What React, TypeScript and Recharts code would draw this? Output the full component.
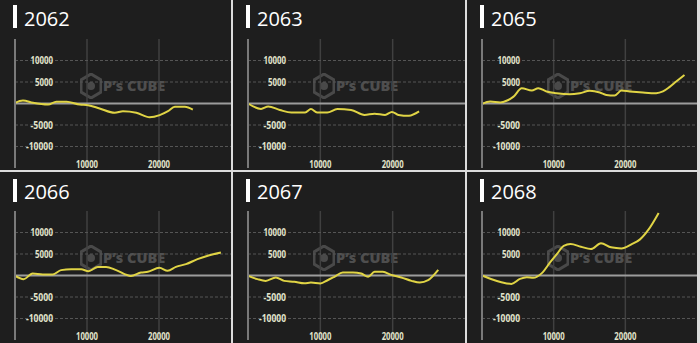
import { LineChart, Line, XAxis, YAxis, ReferenceLine } from 'recharts';

const titles = ['2062', '2063', '2065', '2066', '2067', '2068'];
const yTicks = [-10000, -5000, 5000, 10000];
const xTicks = [10000, 20000];

const games2062 = [0, 1100, 2500, 4600, 5750, 7150, 9000, 10150, 11750, 13850, 15000, 16850, 18700, 20100, 21250, 22200, 23600, 24700];
const diff2062 = [150, 700, 150, -250, 400, 400, -250, -400, -1150, -2150, -1800, -2150, -3200, -2700, -1800, -750, -750, -1400];

const games2063 = [0, 1800, 2800, 4400, 6000, 7900, 8700, 9550, 10950, 12350, 14250, 16100, 17500, 18950, 19900, 20800, 22250, 23650];
const diff2063 = [0, -1250, -700, -1500, -2100, -2100, -1300, -2100, -2100, -1300, -1500, -2650, -2400, -2650, -1950, -2650, -2850, -1850];

const games2065 = [0, 1150, 2550, 3500, 4400, 5550, 6950, 7850, 9000, 10400, 12250, 13650, 15050, 16450, 17350, 18500, 19450, 20600, 22450, 24300, 25250, 26150, 27100, 28250];
const diff2065 = [-100, 450, 250, 700, 1600, 3550, 3000, 3550, 2800, 2400, 2150, 2400, 2950, 2550, 2000, 1850, 3000, 2800, 2550, 2400, 2800, 3800, 5100, 6650];

const games2066 = [0, 1200, 2450, 3850, 5250, 6400, 7800, 9200, 10200, 11500, 12650, 14050, 16100, 17500, 18450, 20050, 21200, 22350, 23750, 25350, 27000, 28600];
const diff2066 = [-100, -850, 450, 250, 250, 1250, 1450, 1450, 1000, 2000, 2000, 1250, -100, 700, 850, 1800, 1100, 2000, 2650, 3800, 4700, 5350];

const games2067 = [0, 1300, 2450, 3850, 5000, 6400, 7800, 8700, 10000, 11000, 11950, 13100, 14500, 15650, 16600, 17500, 18650, 19800, 21200, 22600, 23750, 24900, 26300];
const diff2067 = [-100, -850, -1250, -450, -1250, -1450, -1800, -1650, -1850, -1100, -300, 700, 700, 450, -300, 850, 850, 150, -450, -1250, -1650, -1100, 1300];

const games2068 = [0, 1250, 2700, 4100, 5300, 6250, 7150, 8350, 9550, 10500, 11400, 12350, 13800, 15200, 16600, 18000, 19450, 20850, 22050, 23200, 24650];
const diff2068 = [0, -800, -1550, -1950, -800, -400, -550, 550, 3150, 5100, 6900, 7300, 6700, 6150, 7500, 6550, 6300, 7250, 8400, 10600, 14550];

const series = [
  [games2062, diff2062],
  [games2063, diff2063],
  [games2065, diff2065],
  [games2066, diff2066],
  [games2067, diff2067],
  [games2068, diff2068],
];

const colLeft = [0, 233, 467];
const colWidth = [231, 232, 230];
const rowTop = [0, 172];
const rowHeight = [170, 171];

const tickFont = { fontFamily: '"Open Sans", sans-serif', fontSize: 10, fontWeight: 700, fill: '#e2e4cc' };

const YTick = (props: any) => {
  const label = String(props.payload.value);
  return (
    <text x={53} y={props.y + 3.5} textAnchor="end" textLength={label.length * 4.5} lengthAdjust="spacingAndGlyphs" {...tickFont}>
      {label}
    </text>
  );
};

const XTick = (props: any) => {
  const label = String(props.payload.value);
  return (
    <text x={props.x} y={168} textAnchor="middle" textLength={label.length * 4.4} lengthAdjust="spacingAndGlyphs" {...tickFont}>
      {label}
    </text>
  );
};

function Watermark() {
  return (
    <div style={{ position: 'absolute', left: 80, top: 73, width: 100, height: 30, opacity: 0.35 }}>
      <svg width={22} height={26} style={{ position: 'absolute', left: 0, top: 0 }}>
        <polygon points="11,1 21,7 21,19 11,25 1,19 1,7" fill="none" stroke="#9a9a9a" strokeWidth={3} />
        <circle cx={11} cy={13} r={4} fill="#9a9a9a" />
      </svg>
      <div
        style={{
          position: 'absolute',
          left: 23,
          top: 5,
          fontFamily: '"Open Sans", sans-serif',
          fontWeight: 800,
          fontSize: 14.5,
          lineHeight: '16px',
          color: '#a8a8a8',
          whiteSpace: 'nowrap',
        }}
      >
        P’s CUBE
      </div>
    </div>
  );
}

function Panel({ idx }: { idx: number }) {
  const col = idx % 3;
  const row = Math.floor(idx / 3);
  const w = colWidth[col];
  const h = rowHeight[row];
  const [games, diff] = series[idx];
  const data = games.map((g, i) => ({ g, d: diff[i] }));
  return (
    <div style={{ position: 'absolute', left: colLeft[col], top: rowTop[row], width: w, height: h, background: '#1e1e1e', overflow: 'hidden' }}>
      <div style={{ position: 'absolute', left: 13, top: 5 + row * 2, width: 4, height: 23, background: '#ffffff' }} />
      <div
        style={{
          position: 'absolute',
          left: 24,
          top: 9 + row,
          fontFamily: '"Open Sans", sans-serif',
          fontSize: 20,
          lineHeight: '20px',
          color: '#ffffff',
        }}
      >
        {titles[idx]}
      </div>
      <Watermark />
      <div style={{ position: 'absolute', left: 0, top: 0 }}>
        <LineChart width={w} height={h} data={data} margin={{ top: 39, right: 0, bottom: h - 169, left: 14 }}>
          <XAxis
            type="number"
            dataKey="g"
            domain={[0, 30000]}
            ticks={xTicks}
            interval={0}
            height={1}
            axisLine={false}
            tickLine={false}
            tick={XTick}
          />
          <YAxis
            type="number"
            domain={[-15000, 15000]}
            ticks={yTicks}
            interval={0}
            width={1}
            axisLine={{ stroke: '#7a7a7a', strokeWidth: 2 }}
            tickLine={false}
            tickSize={0}
            tick={YTick}
          />
          {xTicks.map((v) => (
            <ReferenceLine key={'x' + v} x={v} stroke="#404040" strokeWidth={1.5} />
          ))}
          {yTicks.map((v) => (
            <ReferenceLine key={'y' + v} y={v} stroke="#555555" strokeDasharray="3 2" />
          ))}
          <ReferenceLine y={0} stroke="#9c9c9c" strokeWidth={2} />
          <Line type="monotone" dataKey="d" stroke="#e0d445" strokeWidth={2} dot={false} isAnimationActive={false} />
        </LineChart>
      </div>
    </div>
  );
}

export default function App() {
  return (
    <div style={{ position: 'absolute', left: 0, top: 0, width: 700, height: 343, background: '#dcdcdc', overflow: 'hidden' }}>
      {titles.map((_, i) => (
        <Panel key={i} idx={i} />
      ))}
    </div>
  );
}
